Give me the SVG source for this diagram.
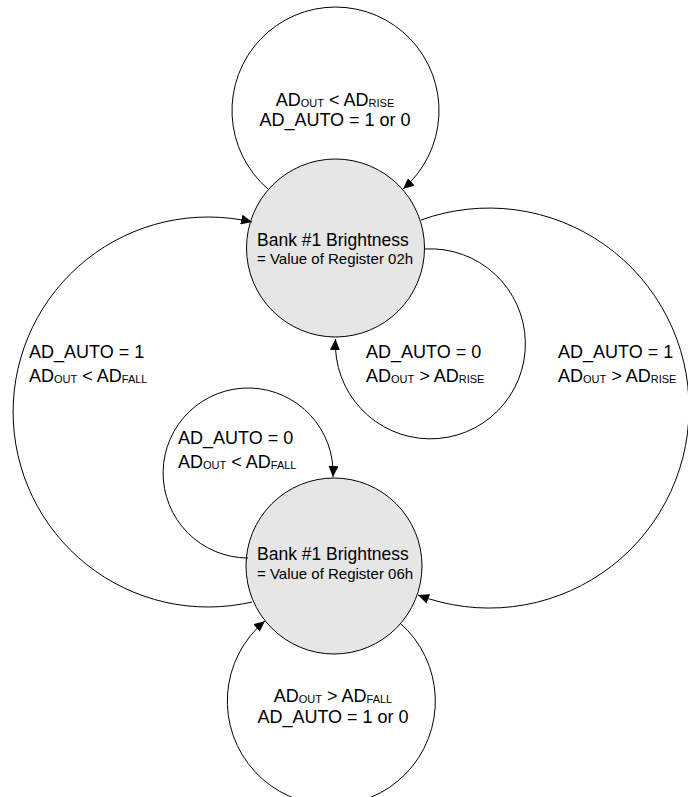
<svg xmlns="http://www.w3.org/2000/svg" width="688" height="797" viewBox="0 0 688 797">
<style>
.node{fill:#e6e6e6;stroke:#000;stroke-width:1}
.edge{fill:none;stroke:#000;stroke-width:1;marker-end:url(#arr)}
.lbl{font-family:"Liberation Sans",Arial,sans-serif;font-size:18px;fill:#000}
.sub{font-size:11px}
.t1{font-family:"Liberation Sans",Arial,sans-serif;font-size:17.5px;fill:#000}
.t2{font-family:"Liberation Sans",Arial,sans-serif;font-size:15px;fill:#000}
</style>
<defs>
<marker id="arr" markerUnits="userSpaceOnUse" markerWidth="12" markerHeight="10" refX="11" refY="5" orient="auto">
<path d="M0,0 L11,5 L0,10 z" fill="#000"/>
</marker>
</defs>
<rect width="688" height="797" fill="#fff"/>
<g id="node-02h">
<circle class="node" cx="335.5" cy="248" r="89"/>
<text class="t1" x="257" y="246">Bank #1 Brightness</text>
<text class="t2" x="257" y="264">= Value of Register 02h</text>
</g>
<g id="node-06h">
<circle class="node" cx="334" cy="566" r="88"/>
<text class="t1" x="257" y="560">Bank #1 Brightness</text>
<text class="t2" x="257" y="579">= Value of Register 06h</text>
</g>
<g id="connectors">
<path class="edge" d="M268,189 A103.5,103.5 0 1 1 403,189"/>
<path class="edge" d="M252,602 A195,195 0 1 1 252,222"/>
<path class="edge" d="M421,220 A200,200 0 1 1 418,595"/>
<path class="edge" d="M425,249 A95,95 0 1 1 335.5,339"/>
<path class="edge" d="M248,558 A85,85 0 1 1 333,477"/>
<path class="edge" d="M400,623 A104,104 0 1 1 265,621"/>
</g>
<g id="labels">
<text class="lbl" x="335" y="106" text-anchor="middle">AD<tspan class="sub" dy="1">OUT</tspan><tspan dy="-1"> &lt; AD</tspan><tspan class="sub" dy="1">RISE</tspan></text>
<text class="lbl" x="335" y="126" text-anchor="middle">AD_AUTO = 1 or 0</text>
<text class="lbl" x="29" y="358">AD_AUTO = 1</text>
<text class="lbl" x="29" y="382">AD<tspan class="sub" dy="1">OUT</tspan><tspan dy="-1"> &lt; AD</tspan><tspan class="sub" dy="1">FALL</tspan></text>
<text class="lbl" x="366" y="358">AD_AUTO = 0</text>
<text class="lbl" x="366" y="382">AD<tspan class="sub" dy="1">OUT</tspan><tspan dy="-1"> &gt; AD</tspan><tspan class="sub" dy="1">RISE</tspan></text>
<text class="lbl" x="558" y="358">AD_AUTO = 1</text>
<text class="lbl" x="558" y="382">AD<tspan class="sub" dy="1">OUT</tspan><tspan dy="-1"> &gt; AD</tspan><tspan class="sub" dy="1">RISE</tspan></text>
<text class="lbl" x="178" y="444">AD_AUTO = 0</text>
<text class="lbl" x="178" y="468">AD<tspan class="sub" dy="1">OUT</tspan><tspan dy="-1"> &lt; AD</tspan><tspan class="sub" dy="1">FALL</tspan></text>
<text class="lbl" x="333" y="702" text-anchor="middle">AD<tspan class="sub" dy="1">OUT</tspan><tspan dy="-1"> &gt; AD</tspan><tspan class="sub" dy="1">FALL</tspan></text>
<text class="lbl" x="333" y="723" text-anchor="middle">AD_AUTO = 1 or 0</text>
</g>
</svg>
